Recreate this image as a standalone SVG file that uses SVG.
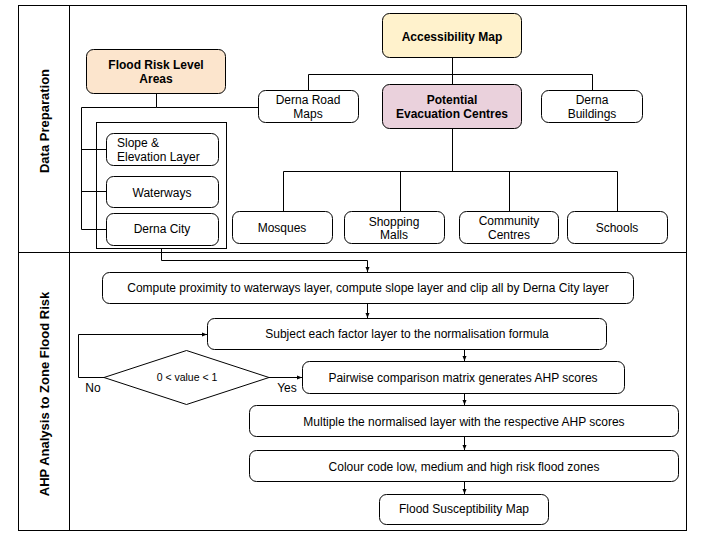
<svg xmlns="http://www.w3.org/2000/svg" width="720" height="540" viewBox="0 0 720 540">
<defs>
<marker id="ah" viewBox="0 0 10 10" refX="10" refY="5" markerWidth="5" markerHeight="5" orient="auto" markerUnits="userSpaceOnUse">
<path d="M0,1 L10,5 L0,9 z" fill="#000"/>
</marker>
<style>
.frame{fill:none;stroke:#000;stroke-width:1}
.box{fill:#fff;stroke:#000;stroke-width:1}
.t{font-family:"Liberation Sans",Arial,sans-serif;font-size:12px;fill:#000;text-anchor:middle}
.tb{font-family:"Liberation Sans",Arial,sans-serif;font-size:12px;font-weight:bold;fill:#000;text-anchor:middle}
.lane{font-family:"Liberation Sans",Arial,sans-serif;font-size:13px;font-weight:bold;fill:#000;text-anchor:middle}
.c{fill:none;stroke:#000;stroke-width:1}
.ca{fill:none;stroke:#000;stroke-width:1;marker-end:url(#ah)}
</style>
</defs>
<rect width="720" height="540" fill="#fff"/>
<g id="lanes">
<rect class="frame" x="18.5" y="5.5" width="668" height="525"/>
<line class="frame" x1="69.5" y1="5.5" x2="69.5" y2="530.5"/>
<line class="frame" x1="18.5" y1="252.5" x2="686.5" y2="252.5"/>
<text class="lane" transform="translate(49,121) rotate(-90)">Data Preparation</text>
<text class="lane" transform="translate(49,394) rotate(-90)">AHP Analysis to Zone Flood Risk</text>
</g>
<g id="connectors">
<polyline class="c" points="156.5,93 156.5,107.5 81.5,107.5 81.5,229.5 106,229.5"/>
<line class="c" x1="156.5" y1="107.5" x2="258" y2="107.5"/>
<line class="c" x1="81.5" y1="149.5" x2="106" y2="149.5"/>
<line class="c" x1="81.5" y1="191.5" x2="106" y2="191.5"/>
<line class="c" x1="452.5" y1="57" x2="452.5" y2="84"/>
<polyline class="c" points="308.5,90 308.5,74.5 592.5,74.5 592.5,90"/>
<line class="c" x1="452.5" y1="128" x2="452.5" y2="171.5"/>
<polyline class="c" points="283.5,211 283.5,171.5 617.5,171.5 617.5,211"/>
<line class="c" x1="400.5" y1="171.5" x2="400.5" y2="211"/>
<line class="c" x1="509.5" y1="171.5" x2="509.5" y2="211"/>
<polyline class="ca" points="161.5,248 161.5,260.5 367.5,260.5 367.5,272"/>
<line class="ca" x1="367.5" y1="303" x2="367.5" y2="318"/>
<line class="ca" x1="464.5" y1="349" x2="464.5" y2="361"/>
<line class="ca" x1="464.5" y1="393" x2="464.5" y2="405"/>
<line class="ca" x1="464.5" y1="436" x2="464.5" y2="450"/>
<line class="ca" x1="464.5" y1="481" x2="464.5" y2="494"/>
<line class="ca" x1="269" y1="377.5" x2="302" y2="377.5"/>
<polyline class="ca" points="104,377.5 78.5,377.5 78.5,334.5 207,334.5"/>
<text class="t" x="287" y="392">Yes</text>
<text class="t" x="93" y="392">No</text>
</g>
<g id="n-flood-risk"><rect class="box" x="86.5" y="49.5" width="139" height="44" rx="7" style="fill:#fce5cd"/><text class="tb" x="156" y="69">Flood Risk Level</text><text class="tb" x="156" y="83">Areas</text></g>
<g id="n-container"><rect class="frame" x="96.5" y="122.5" width="130" height="126"/></g>
<g id="n-slope"><rect class="box" x="106.5" y="133.5" width="112" height="32" rx="7"/><text class="t" x="117" y="147" style="text-anchor:start">Slope &amp;</text><text class="t" x="117" y="161" style="text-anchor:start">Elevation Layer</text></g>
<g id="n-waterways"><rect class="box" x="106.5" y="176.5" width="112" height="31" rx="7"/><text class="t" x="162" y="197">Waterways</text></g>
<g id="n-derna-city"><rect class="box" x="106.5" y="213.5" width="112" height="32" rx="7"/><text class="t" x="162" y="233">Derna City</text></g>
<g id="n-road-maps"><rect class="box" x="258.5" y="90.5" width="100" height="32" rx="7"/><text class="t" x="308" y="104">Derna Road</text><text class="t" x="308" y="118">Maps</text></g>
<g id="n-access"><rect class="box" x="382.5" y="13.5" width="139" height="44" rx="7" style="fill:#fff2cc"/><text class="tb" x="452" y="41">Accessibility Map</text></g>
<g id="n-evac"><rect class="box" x="382.5" y="84.5" width="139" height="44" rx="7" style="fill:#ead1dc"/><text class="tb" x="452" y="104">Potential</text><text class="tb" x="452" y="118">Evacuation Centres</text></g>
<g id="n-buildings"><rect class="box" x="541.5" y="90.5" width="101" height="32" rx="7"/><text class="t" x="592" y="104">Derna</text><text class="t" x="592" y="118">Buildings</text></g>
<g id="n-mosques"><rect class="box" x="232.5" y="211.5" width="100" height="32" rx="7"/><text class="t" x="282" y="232">Mosques</text></g>
<g id="n-malls"><rect class="box" x="344.5" y="211.5" width="100" height="32" rx="7"/><text class="t" x="394" y="226">Shopping</text><text class="t" x="394" y="239">Malls</text></g>
<g id="n-community"><rect class="box" x="459.5" y="211.5" width="99" height="32" rx="7"/><text class="t" x="509" y="225">Community</text><text class="t" x="509" y="239">Centres</text></g>
<g id="n-schools"><rect class="box" x="567.5" y="211.5" width="100" height="32" rx="7"/><text class="t" x="617" y="232">Schools</text></g>
<g id="n-compute"><rect class="box" x="102.5" y="272.5" width="531" height="31" rx="7"/><text class="t" x="368" y="292">Compute proximity to waterways layer, compute slope layer and clip all by Derna City layer</text></g>
<g id="n-subject"><rect class="box" x="207.5" y="318.5" width="399" height="31" rx="7"/><text class="t" x="407" y="338">Subject each factor layer to the normalisation formula</text></g>
<g id="n-decision"><polygon class="box" points="104,377.5 186.5,350.5 269,377.5 186.5,404.5"/><text class="t" x="187" y="381" style="font-size:10.5px">0 &lt; value &lt; 1</text></g>
<g id="n-pairwise"><rect class="box" x="302.5" y="361.5" width="322" height="32" rx="7"/><text class="t" x="463" y="382">Pairwise comparison matrix generates AHP scores</text></g>
<g id="n-multiple"><rect class="box" x="249.5" y="405.5" width="429" height="31" rx="7"/><text class="t" x="464" y="426">Multiple the normalised layer with the respective AHP scores</text></g>
<g id="n-colour"><rect class="box" x="249.5" y="450.5" width="429" height="31" rx="7"/><text class="t" x="464" y="471">Colour code low, medium and high risk flood zones</text></g>
<g id="n-map"><rect class="box" x="379.5" y="494.5" width="169" height="30" rx="7"/><text class="t" x="464" y="513">Flood Susceptibility Map</text></g>
</svg>
